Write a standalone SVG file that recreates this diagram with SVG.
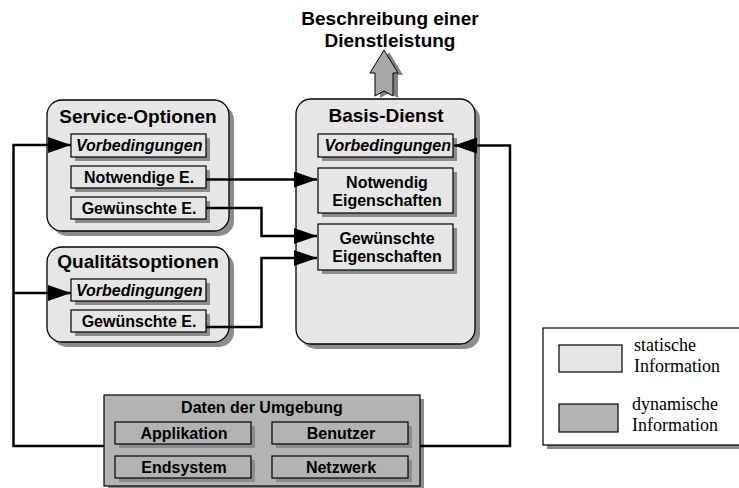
<svg xmlns="http://www.w3.org/2000/svg" width="739" height="488" viewBox="0 0 739 488">
<defs>
<style>
.t{font-family:"Liberation Sans",Arial,sans-serif;font-weight:bold;fill:#000}
.h{font-size:19px;text-anchor:middle}
.b{font-size:16px;text-anchor:middle}
.i{font-size:16px;font-style:italic}
.s{font-family:"Liberation Serif","Times New Roman",serif;font-size:18px;fill:#000}
.grp{fill:#e6e6e6;stroke:#000;stroke-width:1.3}
.lt{fill:#e6e6e6;stroke:#000;stroke-width:1.2}
.dk{fill:#b3b3b3;stroke:#000;stroke-width:1.2}
.sh{fill:#8c8c8c}
.c{fill:none;stroke:#000;stroke-width:2.5}
</style>
<marker id="ah" markerUnits="userSpaceOnUse" markerWidth="24" markerHeight="18" refX="23" refY="8" orient="auto">
<path d="M0,0 L23,8 L0,16 Z" fill="#000"/>
</marker>
</defs>
<rect width="739" height="488" fill="#fff"/>

<g id="title">
<text class="t h" x="390" y="25">Beschreibung einer</text>
<text class="t h" x="390" y="47">Dienstleistung</text>
<polygon points="389,52 403,75 398,75 398,98 389,93 380,98 380,75 375,75" fill="#808080"/>
<polygon points="384,50 398,73 393,73 393,96 384,91 375,96 375,73 370,73" fill="#a8a8a8" stroke="#000" stroke-width="1"/>
</g>

<g id="service-optionen">
<rect class="sh" x="52" y="105" width="182" height="131" rx="15"/>
<rect class="grp" x="47" y="100" width="182" height="131" rx="15"/>
<text class="t h" x="138" y="123">Service-Optionen</text>
<rect class="sh" x="75" y="138" width="135" height="23"/>
<rect class="lt" x="71" y="134" width="135" height="23"/>
<text class="t i" x="76" y="151">Vorbedingungen</text>
<rect class="sh" x="75" y="170" width="135" height="22"/>
<rect class="lt" x="71" y="166" width="135" height="22"/>
<text class="t b" x="139" y="183">Notwendige E.</text>
<rect class="sh" x="75" y="201" width="135" height="22"/>
<rect class="lt" x="71" y="197" width="135" height="22"/>
<text class="t b" x="139" y="214">Gewünschte E.</text>
</g>

<g id="qualitaetsoptionen">
<rect class="sh" x="52" y="252" width="182" height="95" rx="15"/>
<rect class="grp" x="47" y="247" width="182" height="95" rx="15"/>
<text class="t h" x="138" y="268">Qualitätsoptionen</text>
<rect class="sh" x="75" y="283" width="135" height="22"/>
<rect class="lt" x="71" y="279" width="135" height="22"/>
<text class="t i" x="76" y="296">Vorbedingungen</text>
<rect class="sh" x="75" y="314" width="135" height="22"/>
<rect class="lt" x="71" y="310" width="135" height="22"/>
<text class="t b" x="139" y="327">Gewünschte E.</text>
</g>

<g id="basis-dienst">
<rect class="sh" x="301" y="104" width="179" height="245" rx="15"/>
<rect class="grp" x="296" y="99" width="179" height="245" rx="15"/>
<text class="t h" x="386" y="122">Basis-Dienst</text>
<rect class="sh" x="322" y="138" width="135" height="23"/>
<rect class="lt" x="318" y="134" width="135" height="23"/>
<text class="t i" x="324.5" y="151">Vorbedingungen</text>
<rect class="sh" x="322" y="172" width="135" height="45"/>
<rect class="lt" x="318" y="168" width="135" height="45"/>
<text class="t b" x="387" y="188">Notwendig</text>
<text class="t b" x="387" y="206">Eigenschaften</text>
<rect class="sh" x="322" y="228" width="135" height="46"/>
<rect class="lt" x="318" y="224" width="135" height="46"/>
<text class="t b" x="387" y="244">Gewünschte</text>
<text class="t b" x="387" y="262">Eigenschaften</text>
</g>

<g id="daten-der-umgebung">
<rect class="sh" x="108" y="399" width="316" height="91"/>
<rect class="dk" x="104" y="395" width="316" height="91"/>
<text class="t b" x="262" y="413">Daten der Umgebung</text>
<rect class="sh" x="119" y="426" width="136" height="22"/>
<rect class="dk" x="115" y="422" width="136" height="22"/>
<text class="t b" x="184" y="439">Applikation</text>
<rect class="sh" x="276" y="426" width="136" height="22"/>
<rect class="dk" x="272" y="422" width="136" height="22"/>
<text class="t b" x="341" y="439">Benutzer</text>
<rect class="sh" x="119" y="460" width="136" height="22"/>
<rect class="dk" x="115" y="456" width="136" height="22"/>
<text class="t b" x="184" y="473">Endsystem</text>
<rect class="sh" x="276" y="460" width="136" height="22"/>
<rect class="dk" x="272" y="456" width="136" height="22"/>
<text class="t b" x="341" y="473">Netzwerk</text>
</g>

<g id="connectors">
<path class="c" d="M104,446 H13.5 V145 H71" marker-end="url(#ah)"/>
<path class="c" d="M13.5,293 H71" marker-end="url(#ah)"/>
<path class="c" d="M420,446 H510 V145.5 H454" marker-end="url(#ah)"/>
<path class="c" d="M206,179.5 H317" stroke-width="3" marker-end="url(#ah)"/>
<path class="c" d="M206,208 H261.5 V236 H317" stroke-width="2" marker-end="url(#ah)"/>
<path class="c" d="M206,327 H261.5 V258 H317" stroke-width="2" marker-end="url(#ah)"/>
</g>

<g id="legend">
<rect class="sh" x="547" y="332" width="200" height="117"/>
<rect x="543" y="328" width="200" height="117" fill="#fff" stroke="#000" stroke-width="1.2"/>
<rect class="lt" x="559" y="345" width="63" height="27"/>
<text class="s" x="634" y="351">statische</text>
<text class="s" x="634" y="372">Information</text>
<rect class="dk" x="559" y="404" width="59" height="28"/>
<text class="s" x="632" y="410">dynamische</text>
<text class="s" x="632" y="431">Information</text>
</g>
</svg>
